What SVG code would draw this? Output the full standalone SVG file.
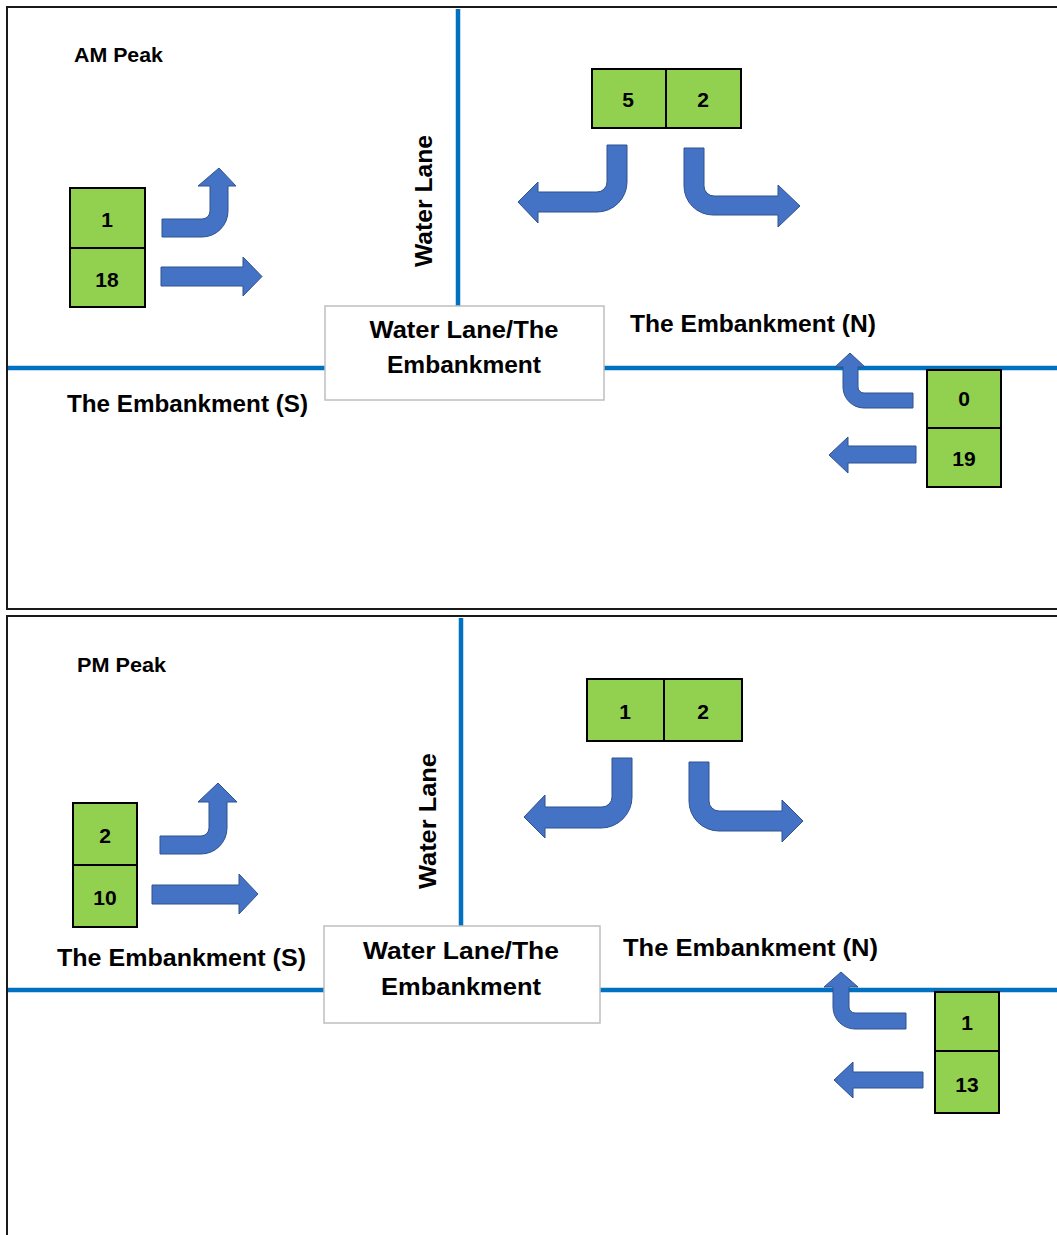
<svg xmlns="http://www.w3.org/2000/svg" width="1057" height="1235" viewBox="0 0 1057 1235">
  <style>
    .panel { fill: #ffffff; stroke: #1a1a1a; stroke-width: 2; }
    .road { stroke: #0070C0; stroke-width: 4.5; fill: none; }
    .junction { fill: #ffffff; stroke: #BFBFBF; stroke-width: 1.5; }
    .count { fill: #92D050; stroke: #000000; stroke-width: 2; }
    .arrow { fill: #4472C4; stroke: #2F528F; stroke-width: 1; }
    text { font-family: "Liberation Sans", Arial, sans-serif; font-weight: bold; fill: #000000; }
    .lbl { font-size: 23px; }
    .num { font-size: 21px; text-anchor: middle; }
    .peak { font-size: 21px; }
    .mid { text-anchor: middle; }
  </style>

  <!-- Panels -->
  <rect class="panel" x="7" y="7" width="1070" height="602"/>
  <rect class="panel" x="7" y="616" width="1070" height="640"/>

  <!-- ===== AM Peak ===== -->
  <g id="am-roads">
    <line class="road" x1="458" y1="9" x2="458" y2="306"/>
    <line class="road" x1="8" y1="368" x2="325" y2="368"/>
    <line class="road" x1="604" y1="368" x2="1057" y2="368"/>
  </g>

  <g id="am-title">
    <text class="peak" x="74" y="62" textLength="89" lengthAdjust="spacingAndGlyphs">AM Peak</text>
  </g>

  <g id="am-junction">
    <rect class="junction" x="325" y="306" width="279" height="94"/>
    <text class="lbl mid" x="464" y="338" textLength="189" lengthAdjust="spacingAndGlyphs">Water Lane/The</text>
    <text class="lbl mid" x="464" y="373" textLength="154" lengthAdjust="spacingAndGlyphs">Embankment</text>
  </g>

  <g id="am-road-labels">
    <text class="lbl" transform="translate(432,201) rotate(-90)" text-anchor="middle" textLength="132" lengthAdjust="spacingAndGlyphs">Water Lane</text>
    <text class="lbl" x="630" y="332" textLength="246" lengthAdjust="spacingAndGlyphs">The Embankment (N)</text>
    <text class="lbl" x="67" y="412" textLength="241" lengthAdjust="spacingAndGlyphs">The Embankment (S)</text>
  </g>

  <g id="am-west-counts">
    <rect class="count" x="70" y="188" width="75" height="60"/>
    <rect class="count" x="70" y="248" width="75" height="59"/>
    <text class="num" x="107" y="227">1</text>
    <text class="num" x="107" y="287">18</text>
  </g>

  <g id="am-north-counts">
    <rect class="count" x="592" y="69" width="74" height="59"/>
    <rect class="count" x="666" y="69" width="75" height="59"/>
    <text class="num" x="628" y="107">5</text>
    <text class="num" x="703" y="107">2</text>
  </g>

  <g id="am-east-counts">
    <rect class="count" x="927" y="370" width="74" height="58"/>
    <rect class="count" x="927" y="428" width="74" height="59"/>
    <text class="num" x="964" y="406">0</text>
    <text class="num" x="964" y="466">19</text>
  </g>

  <g id="am-arrows">
    <path class="arrow" d="M162,219 H202 A8,8 0 0 0 210,211 V186 H198 L219,168 L236,186 H228 V211 A26,26 0 0 1 202,237 H162 Z"/>
    <path class="arrow" d="M161,267 H243 V257 L262,276.5 L243,296 V286 H161 Z"/>
    <path class="arrow" d="M607,145 H627 V182 A30,30 0 0 1 597,212 H538 V223 L518,202 L538,182 V192 H597 A10,10 0 0 0 607,182 Z"/>
    <path class="arrow" d="M684,148 H704 V186 A10,10 0 0 0 714,196 H778 V185 L800,206 L778,227 V215 H713 A29,29 0 0 1 684,186 Z"/>
    <path class="arrow" d="M913,393 V408 H864 A21,21 0 0 1 843,387 V367 H835 L850,353 L865,367 H858 V387 A6,6 0 0 0 864,393 Z"/>
    <path class="arrow" d="M916,446 V463 H848 V473 L829,455 L848,437 V446 Z"/>
  </g>

  <!-- ===== PM Peak ===== -->
  <g id="pm-roads">
    <line class="road" x1="461" y1="618" x2="461" y2="926"/>
    <line class="road" x1="8" y1="990" x2="324" y2="990"/>
    <line class="road" x1="600" y1="990" x2="1057" y2="990"/>
  </g>

  <g id="pm-title">
    <text class="peak" x="77" y="672" textLength="89" lengthAdjust="spacingAndGlyphs">PM Peak</text>
  </g>

  <g id="pm-junction">
    <rect class="junction" x="324" y="926" width="276" height="97"/>
    <text class="lbl mid" x="461" y="959" textLength="196" lengthAdjust="spacingAndGlyphs">Water Lane/The</text>
    <text class="lbl mid" x="461" y="995" textLength="160" lengthAdjust="spacingAndGlyphs">Embankment</text>
  </g>

  <g id="pm-road-labels">
    <text class="lbl" transform="translate(436,821) rotate(-90)" text-anchor="middle" textLength="136" lengthAdjust="spacingAndGlyphs">Water Lane</text>
    <text class="lbl" x="623" y="956" textLength="255" lengthAdjust="spacingAndGlyphs">The Embankment (N)</text>
    <text class="lbl" x="57" y="966" textLength="249" lengthAdjust="spacingAndGlyphs">The Embankment (S)</text>
  </g>

  <g id="pm-west-counts">
    <rect class="count" x="73" y="803" width="64" height="62"/>
    <rect class="count" x="73" y="865" width="64" height="62"/>
    <text class="num" x="105" y="843">2</text>
    <text class="num" x="105" y="905">10</text>
  </g>

  <g id="pm-north-counts">
    <rect class="count" x="587" y="679" width="77" height="62"/>
    <rect class="count" x="664" y="679" width="78" height="62"/>
    <text class="num" x="625" y="719">1</text>
    <text class="num" x="703" y="719">2</text>
  </g>

  <g id="pm-east-counts">
    <rect class="count" x="935" y="992" width="64" height="59"/>
    <rect class="count" x="935" y="1051" width="64" height="62"/>
    <text class="num" x="967" y="1030">1</text>
    <text class="num" x="967" y="1092">13</text>
  </g>

  <g id="pm-arrows">
    <path class="arrow" d="M160,836 H201 A8,8 0 0 0 209,828 V802 H198 L218,783 L237,802 H227 V828 A26,26 0 0 1 201,854 H160 Z"/>
    <path class="arrow" d="M152,885 H239 V874 L258,894 L239,914 V904 H152 Z"/>
    <path class="arrow" d="M612,758 H632 V797 A31,31 0 0 1 601,828 H545 V838 L524,817 L545,795 V807 H602 A10,10 0 0 0 612,797 Z"/>
    <path class="arrow" d="M689,762 H709 V801 A10,10 0 0 0 719,811 H782 V800 L803,821 L782,842 V831 H719 A30,30 0 0 1 689,801 Z"/>
    <path class="arrow" d="M906,1013 V1029 H855 A22,22 0 0 1 833,1007 V987 H824 L841,972 L858,987 H849 V1007 A6,6 0 0 0 855,1013 Z"/>
    <path class="arrow" d="M923,1072 V1088 H853 V1098 L834,1080 L853,1062 V1072 Z"/>
  </g>
</svg>
